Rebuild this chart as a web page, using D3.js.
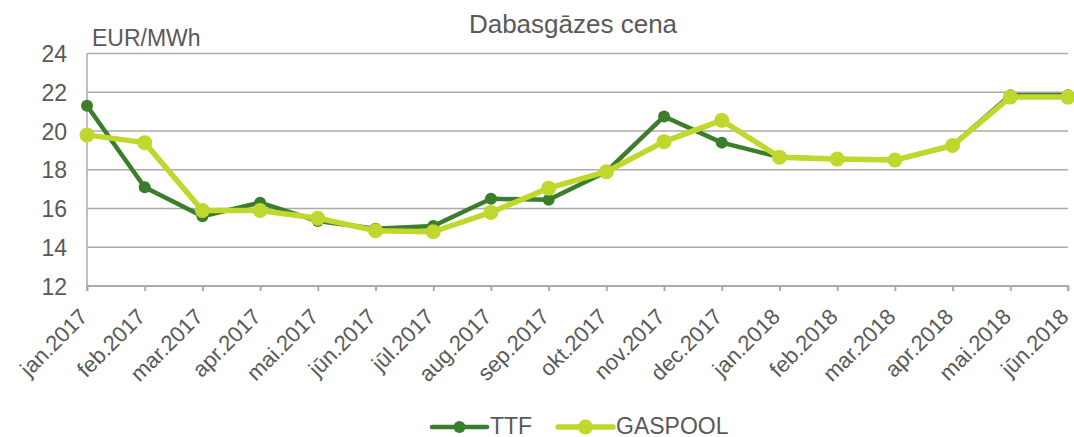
<!DOCTYPE html>
<html>
<head>
<meta charset="utf-8">
<script src="https://cdn.jsdelivr.net/npm/d3@7"></script>
<style>
  body { margin: 0; background: #fff; }
  text { font-family: "Liberation Sans", Arial, sans-serif; }
</style>
</head>
<body>
<div id="chart"></div>
<script>
var months = ["jan.2017", "feb.2017", "mar.2017", "apr.2017", "mai.2017", "jūn.2017",
    "jūl.2017", "aug.2017", "sep.2017", "okt.2017", "nov.2017", "dec.2017",
    "jan.2018", "feb.2018", "mar.2018", "apr.2018", "mai.2018", "jūn.2018"];
var ttf = [21.3, 17.1, 15.6, 16.3, 15.35, 14.95, 15.1, 16.5, 16.45, 17.9, 20.75, 19.4,
    18.65, 18.55, 18.5, 19.25, 21.85, 21.85];
var gaspool = [19.8, 19.4, 15.9, 15.9, 15.5, 14.85, 14.8, 15.8, 17.05, 17.9, 19.45, 20.55,
    18.65, 18.55, 18.5, 19.25, 21.75, 21.75];
var yTicks = [12, 14, 16, 18, 20, 22, 24];

var series = [
    {name: "TTF", values: ttf, color: "#3a7d2b", width: 4.5, r: 6},
    {name: "GASPOOL", values: gaspool, color: "#c0d72e", width: 5.5, r: 7.5}
];

var W = 1074, H = 437;
var plotLeft = 87, plotRight = 1068, plotTop = 53.5, plotBottom = 286;

var svg = d3.select("#chart").append("svg")
    .attr("width", W)
    .attr("height", H);

var x = d3.scalePoint()
    .domain(months)
    .range([plotLeft, plotRight]);

var y = d3.scaleLinear()
    .domain([12, 24])
    .range([plotBottom, plotTop]);

// gridlines
svg.append("g")
    .selectAll("line")
    .data(yTicks.filter(d => d > 12))
    .enter()
    .append("line")
    .attr("x1", plotLeft)
    .attr("x2", plotRight)
    .attr("y1", d => y(d))
    .attr("y2", d => y(d))
    .attr("stroke", "#aeaaaa")
    .attr("stroke-width", 1.3);

// y labels
svg.append("g")
    .selectAll("text")
    .data(yTicks)
    .enter()
    .append("text")
    .attr("x", 67)
    .attr("y", d => y(d) + 8.5)
    .attr("text-anchor", "end")
    .attr("fill", "#595959")
    .style("font-size", "23px")
    .text(d => d);

// y axis line
svg.append("line")
    .attr("x1", plotLeft).attr("x2", plotLeft)
    .attr("y1", plotTop).attr("y2", plotBottom)
    .attr("stroke", "#aeaaaa")
    .attr("stroke-width", 1.5);

// x axis
var xAxis = svg.append("g")
    .attr("transform", "translate(0," + plotBottom + ")")
    .call(d3.axisBottom(x).tickSize(5).tickFormat(""));
xAxis.select(".domain")
    .attr("d", "M" + plotLeft + ",5V0H" + plotRight + "V5")
    .attr("stroke", "#aeaaaa")
    .attr("stroke-width", 2);
xAxis.selectAll(".tick line")
    .attr("stroke", "#aeaaaa")
    .attr("stroke-width", 2);

svg.append("g")
    .selectAll("text")
    .data(months)
    .enter()
    .append("text")
    .attr("transform", d => "translate(" + (x(d) + 2) + "," + (plotBottom + 32) + ") rotate(-45)")
    .attr("text-anchor", "end")
    .attr("fill", "#595959")
    .style("font-size", "22px")
    .text(d => d);

// title and unit
svg.append("text")
    .attr("x", 573)
    .attr("y", 33)
    .attr("text-anchor", "middle")
    .attr("fill", "#595959")
    .style("font-size", "26px")
    .text("Dabasgāzes cena");

svg.append("text")
    .attr("x", 92)
    .attr("y", 46)
    .attr("fill", "#595959")
    .style("font-size", "23px")
    .text("EUR/MWh");

// lines
var line = d3.line()
    .x((d, i) => x(months[i]))
    .y(d => y(d));

series.forEach(function(s) {
    var g = svg.append("g");
    g.append("path")
        .datum(s.values)
        .attr("d", line)
        .attr("fill", "none")
        .attr("stroke", s.color)
        .attr("stroke-width", s.width)
        .attr("stroke-linejoin", "round");
    g.selectAll("circle")
        .data(s.values)
        .enter()
        .append("circle")
        .attr("cx", (d, i) => x(months[i]))
        .attr("cy", d => y(d))
        .attr("r", s.r)
        .attr("fill", s.color);
});

// legend
var legendX = [432, 558];
var legend = svg.append("g")
    .selectAll("g")
    .data(series)
    .enter()
    .append("g")
    .attr("transform", (d, i) => "translate(" + legendX[i] + ",427)");
legend.append("line")
    .attr("x1", 0).attr("x2", 55)
    .attr("stroke", d => d.color)
    .attr("stroke-width", d => d.width)
    .attr("stroke-linecap", "round");
legend.append("circle")
    .attr("cx", 27.5)
    .attr("r", d => d.r)
    .attr("fill", d => d.color);
legend.append("text")
    .attr("x", 58)
    .attr("y", 6.5)
    .attr("fill", "#595959")
    .style("font-size", "23px")
    .text(d => d.name);
</script>
</body>
</html>
